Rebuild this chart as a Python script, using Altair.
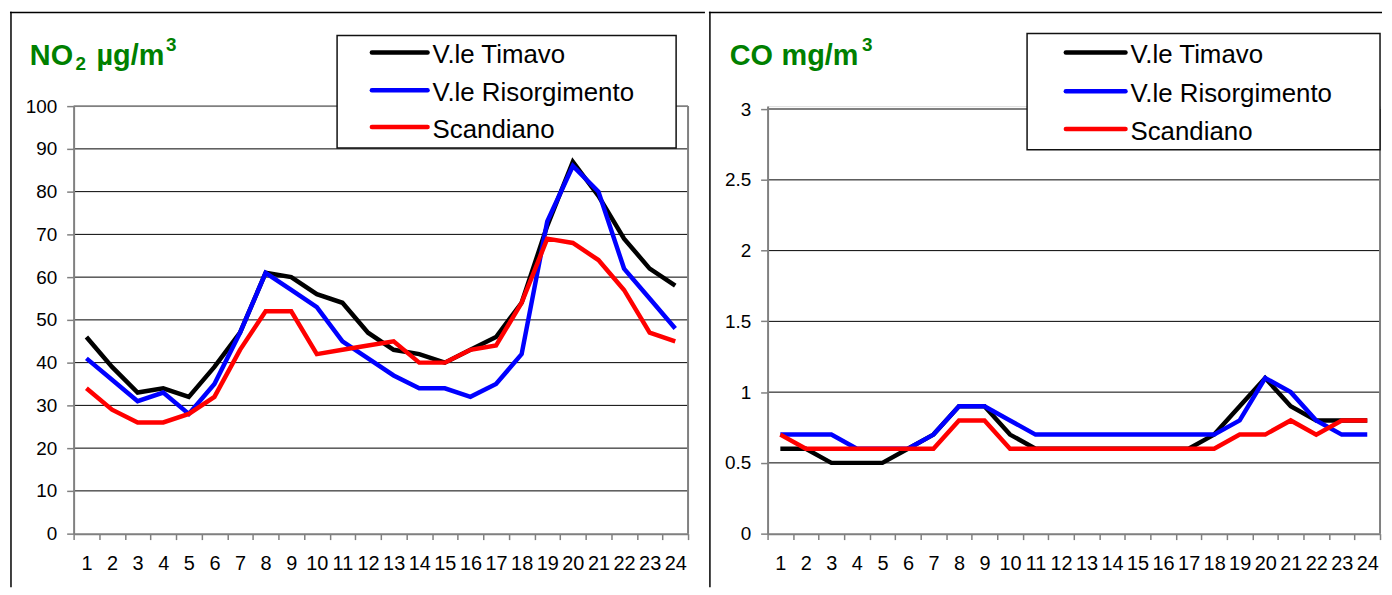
import altair as alt
import pandas as pd

# ---------------- data ----------------
hours = list(range(1, 25))
stations = ["V.le Timavo", "V.le Risorgimento", "Scandiano"]
station_colors = ["#000000", "#0000FF", "#FF0000"]

no2_timavo = [46, 39, 33, 34, 32, 39, 47, 61, 60, 56, 54, 47, 43, 42, 40, 43, 46, 54, 72, 87, 79, 69, 62, 58]
no2_risorgimento = [41, 36, 31, 33, 28, 35, 47, 61, 57, 53, 45, 41, 37, 34, 34, 32, 35, 42, 73, 86, 80, 62, 55, 48]
no2_scandiano = [34, 29, 26, 26, 28, 32, 43, 52, 52, 42, 43, 44, 45, 40, 40, 43, 44, 54, 69, 68, 64, 57, 47, 45]

co_timavo = [0.6, 0.6, 0.5, 0.5, 0.5, 0.6, 0.7, 0.9, 0.9, 0.7, 0.6, 0.6, 0.6, 0.6, 0.6, 0.6, 0.6, 0.7, 0.9, 1.1, 0.9, 0.8, 0.8, 0.8]
co_risorgimento = [0.7, 0.7, 0.7, 0.6, 0.6, 0.6, 0.7, 0.9, 0.9, 0.8, 0.7, 0.7, 0.7, 0.7, 0.7, 0.7, 0.7, 0.7, 0.8, 1.1, 1.0, 0.8, 0.7, 0.7]
co_scandiano = [0.7, 0.6, 0.6, 0.6, 0.6, 0.6, 0.6, 0.8, 0.8, 0.6, 0.6, 0.6, 0.6, 0.6, 0.6, 0.6, 0.6, 0.6, 0.7, 0.7, 0.8, 0.7, 0.8, 0.8]

no2_ticks = [0, 10, 20, 30, 40, 50, 60, 70, 80, 90, 100]
co_ticks = [0, 0.5, 1, 1.5, 2, 2.5, 3]

GREEN = "#008000"
GRAY = "#808080"
FONT = "Liberation Sans"
one = pd.DataFrame({"k": [0]})


def make_df(series):
    rows = []
    for st, vals in zip(stations, series):
        for h, v in zip(hours, vals):
            rows.append({"hour": h, "station": st, "value": v})
    return pd.DataFrame(rows)


def panel(series, ticks, ymax, ox, oy, w, h, frame, title_parts, legend):
    """ox, oy: page coords of plot origin; frame: page coords (x0, x1, y0, y1)."""
    rx = lambda px: px - ox
    ry = lambda py: py - oy
    df = make_df(series)

    x_enc = alt.X(
        "hour:O",
        scale=alt.Scale(paddingInner=0, paddingOuter=0),
        axis=alt.Axis(
            title=None, labelAngle=0, tickBand="extent", labelOverlap=False,
            labelFont=FONT, labelFontSize=20, labelColor="black",
            labelPadding=14, tickSize=6, tickColor=GRAY, tickWidth=1.5,
            domainColor=GRAY, domainWidth=2, grid=False, zindex=1,
        ),
    )
    y_scale = alt.Scale(domain=[0, ymax], nice=False, zero=True)
    y_axis = alt.Axis(
        title=None, values=ticks, format="~r", grid=False,
        labelFont=FONT, labelFontSize=19, labelColor="black",
        labelPadding=10, tickSize=7, tickColor=GRAY, tickWidth=1.5,
        domainColor=GRAY, domainWidth=2, zindex=1,
    )

    def yenc(field):
        return alt.Y(field, scale=y_scale, axis=y_axis)

    color_scale = alt.Scale(domain=stations, range=station_colors)

    layers = []
    # invisible frame (defines panel bounds)
    layers.append(
        alt.Chart(one).mark_rect(fill="white", fillOpacity=0, strokeWidth=0).encode(
            x=alt.value(rx(frame[0])), x2=alt.value(rx(frame[1])),
            y=alt.value(ry(frame[2])), y2=alt.value(ry(frame[3])),
        )
    )
    # gridlines
    layers.append(
        alt.Chart(pd.DataFrame({"value": ticks[1:-1]})).mark_rule(color="black", strokeWidth=1).encode(
            y=yenc("value:Q")
        )
    )
    # plot-area border (top and right, grey)
    border = pd.DataFrame({"value": [ticks[-1]], "bottom": [0]})
    layers.append(
        alt.Chart(border).mark_rule(color=GRAY, strokeWidth=2).encode(
            y=yenc("value:Q"), x=alt.value(0), x2=alt.value(w)
        )
    )
    layers.append(
        alt.Chart(border).mark_rule(color=GRAY, strokeWidth=2).encode(
            y=yenc("value:Q"), y2="bottom:Q", x=alt.value(w)
        )
    )
    # series lines, drawn black, blue, red
    for st in stations:
        layers.append(
            alt.Chart(df).transform_filter(alt.datum.station == st).mark_line(
                strokeWidth=4.5, strokeJoin="miter", strokeCap="butt"
            ).encode(
                x=x_enc, y=yenc("value:Q"),
                color=alt.Color("station:N", scale=color_scale, legend=None),
            )
        )
    # legend box
    bx0, bx1, by0, by1 = legend["box"]
    layers.append(
        alt.Chart(one).mark_rect(fill="white", stroke="#111111", strokeWidth=1.5).encode(
            x=alt.value(rx(bx0)), x2=alt.value(rx(bx1)),
            y=alt.value(ry(by0)), y2=alt.value(ry(by1)),
        )
    )
    lx0, lx1, tx = legend["line_x0"], legend["line_x1"], legend["text_x"]
    for st, col, ly, tb in zip(stations, station_colors, legend["line_y"], legend["text_y"]):
        layers.append(
            alt.Chart(one).mark_rule(color=col, strokeWidth=4.5, strokeCap="round").encode(
                x=alt.value(rx(lx0)), x2=alt.value(rx(lx1)), y=alt.value(ry(ly))
            )
        )
        layers.append(
            alt.Chart(one).mark_text(
                text=st, font=FONT, fontSize=26, color="black",
                align="left", baseline="alphabetic",
            ).encode(x=alt.value(rx(tx)), y=alt.value(ry(tb)))
        )
    # title pieces
    for txt, px, py, size in title_parts:
        layers.append(
            alt.Chart(one).mark_text(
                text=txt, font=FONT, fontSize=size, fontWeight="bold",
                color=GREEN, align="left", baseline="alphabetic",
            ).encode(x=alt.value(rx(px)), y=alt.value(ry(py)))
        )
    # frame lines (black)
    x0, x1, y0, y1 = frame
    for (a, b, c, d) in [(x0 + 1, x0 + 1, y0, y1), (x0, x1, y0 + 0.75, y0 + 0.75)]:
        layers.append(
            alt.Chart(one).mark_rule(color="black", strokeWidth=1.5).encode(
                x=alt.value(rx(a)), x2=alt.value(rx(b)),
                y=alt.value(ry(c)), y2=alt.value(ry(d)),
            )
        )

    return alt.layer(*layers).properties(width=w, height=h)


left = panel(
    [no2_timavo, no2_risorgimento, no2_scandiano], no2_ticks, 100,
    ox=72, oy=103, w=618, h=430,
    frame=(8, 707, 8, 587),
    title_parts=[("NO", 28, 62, 29), ("2", 74, 67, 19), ("\u00b5g/m", 95, 62, 29), ("3", 165, 48, 19)],
    legend={
        "box": (337, 678, 32, 145),
        "line_x0": 372, "line_x1": 428, "text_x": 433,
        "line_y": [49, 87, 124], "text_y": [60, 98, 135],
    },
)

# right plot: 3 sits at y=106, 0 at y=533; plot box shares the left panel's top (103)
right = panel(
    [co_timavo, co_risorgimento, co_scandiano], co_ticks, 3 * 430 / 427,
    ox=766, oy=103, w=616, h=430,
    frame=(707, 1384, 8, 587),
    title_parts=[("CO", 728, 62, 29), ("mg/m", 780, 62, 29), ("3", 861, 48, 19)],
    legend={
        "box": (1027, 1382, 30, 147),
        "line_x0": 1066, "line_x1": 1126, "text_x": 1131,
        "line_y": [49, 88, 126], "text_y": [60, 99, 137],
    },
)

chart = alt.hconcat(
    left, right, spacing=0,
    padding={"left": 0, "top": 0, "right": 0, "bottom": 0},
).configure_view(strokeWidth=0).configure(background="white")

chart.save("out.html", embed_options={"renderer": "svg", "actions": False})
